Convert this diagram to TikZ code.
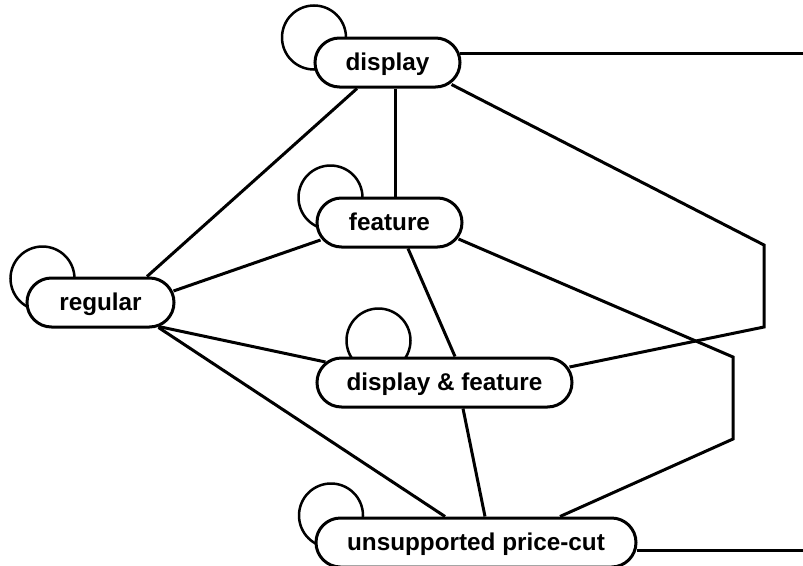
\documentclass[tikz,border=0pt]{standalone}
\usepackage{fontspec}
\setmainfont{Liberation Sans}
\usetikzlibrary{calc,backgrounds}
\begin{document}
\begin{tikzpicture}[x=1pt,y=-1pt,
  state/.style={draw, line width=3pt, fill=white, rounded corners=24.5pt,
    minimum height=49pt, inner sep=0pt,
    font=\fontsize{24.3}{28}\selectfont\bfseries, text height=20pt, text depth=4pt},
  link/.style={line width=3pt, line join=miter},
  selfloop/.style={line width=2.5pt}]
\useasboundingbox (0,0) rectangle (803,565);
\clip (0,0) rectangle (803,565);

% states
\node[state, minimum width=145pt] (disp)  at (387.5,62.5)  {display};
\node[state, minimum width=145pt] (feat)  at (389.5,222.5) {feature};
\node[state, minimum width=147pt] (reg)   at (100.5,302.5) {regular};
\node[state, minimum width=255pt] (df)    at (444.5,382.5) {display \& feature};
\node[state, minimum width=320pt] (unsup) at (476,542.5)   {unsupported price-cut};

% self transitions, drawn behind the states
\begin{scope}[on background layer]
  \draw[selfloop] ($(disp.north west)+(0.5,1)$)  circle[radius=32pt];
  \draw[selfloop] ($(feat.north west)+(15,1)$)   circle[radius=32pt];
  \draw[selfloop] ($(reg.north west)+(17,2)$)    circle[radius=32pt];
  \draw[selfloop] ($(df.north west)+(63,-16)$)   circle[radius=32pt];
  \draw[selfloop] ($(unsup.north west)+(16.5,-1)$) circle[radius=32pt];
\end{scope}

% transitions
\draw[link] ($(disp.south)+(-30.5,0)$) -- ($(reg.north)+(46.5,0)$);
\draw[link] ($(disp.south)+(7.5,0)$)   -- ($(feat.north)+(5.5,0)$);
\draw[link] ($(disp.south east)+(-10,-4)$) -- (764,245) -- (764,327)
            -- ($(df.east)+(-4,-15.5)$);
\draw[link] ($(disp.east)+(-2,-9.5)$) -- (830,53) -- (830,550)
            -- ($(unsup.east)+(-1,7.5)$);

\draw[link] ($(feat.west)+(5,17.5)$)  -- ($(reg.east)+(-2,-11.5)$);
\draw[link] ($(feat.south)+(18.5,0)$) -- ($(df.north)+(10.5,0)$);
\draw[link] ($(feat.east)+(-5,16.5)$) -- (733,357) -- (733,439)
            -- ($(unsup.north)+(84,0)$);

\draw[link] ($(reg.south east)+(-17,-2)$) -- ($(df.west)+(10,-20.5)$);
\draw[link] ($(reg.south east)+(-17,-1)$) -- ($(unsup.north)+(-31,0)$);

\draw[link] ($(df.south)+(18.5,0)$) -- ($(unsup.north)+(9,0)$);
\end{tikzpicture}
\end{document}
